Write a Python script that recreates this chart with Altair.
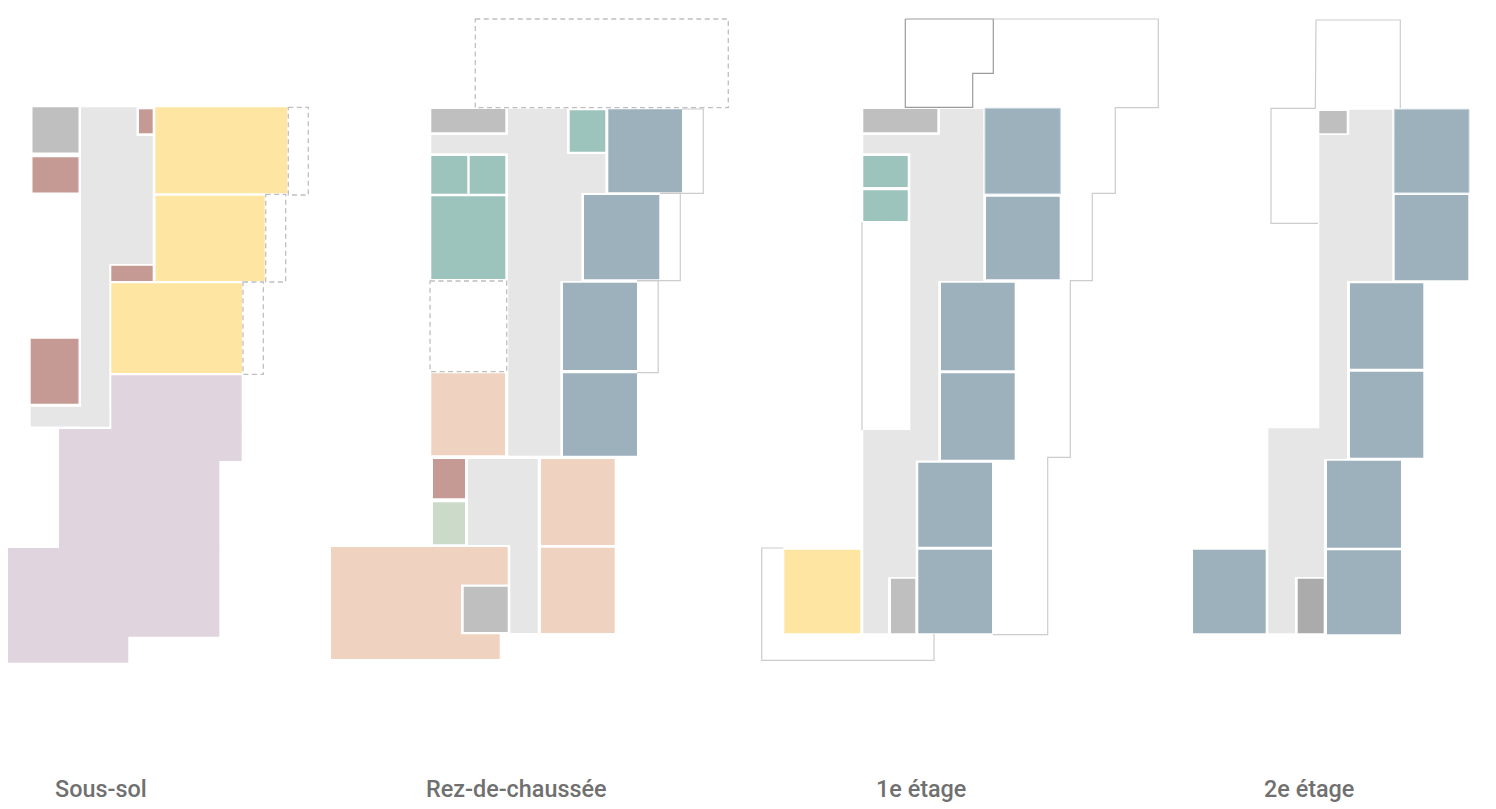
import altair as alt
import pandas as pd

# Room types and palette
room_types = ["circulation", "service", "technique", "stockage", "parking", "bureau", "atelier", "salle", "accueil"]
room_colors = ["#e6e6e6", "#bfbfbf", "#c69a94", "#fee5a1", "#e0d4de", "#9cb1bc", "#9cc3bc", "#efd2bf", "#ccdbc9"]

# Floor labels
floor_names = ["Sous-sol", "Rez-de-chaussée", "1e étage", "2e étage"]
floor_x = [55, 426, 876, 1264]
floor_y = [797, 797, 797, 797]

# Rooms: (type, x0, x1, y0, y1)
sous_sol = [
    ("circulation", 81, 136.5, 107.3, 137), ("circulation", 81, 152.7, 136, 264), ("circulation", 81, 109.3, 263, 426.5),
    ("circulation", 30.7, 109.3, 406.7, 426.5),
    ("service", 32.5, 78.5, 107.3, 152.5),
    ("technique", 32.5, 78.5, 157.3, 192.5), ("technique", 30.7, 78.5, 338.7, 403.7),
    ("technique", 139, 152.7, 109.3, 133.3), ("technique", 111.3, 152.7, 265.7, 281),
    ("stockage", 155.3, 287.3, 107.3, 193.3), ("stockage", 155.5, 264.7, 195.7, 281),
    ("stockage", 111.3, 242, 283.3, 373),
    ("parking", 111.3, 241.7, 375.3, 430), ("parking", 59, 241.7, 429, 461),
    ("parking", 59, 219.3, 460, 549), ("parking", 0, 219.3, 548, 636.7),
    ("parking", 0, 128.3, 636, 662.7),
]
rez = [
    ("circulation", 508, 567, 108.7, 155), ("circulation", 431.3, 509, 135, 153.3),
    ("circulation", 508, 605.3, 154, 193), ("circulation", 508, 581.3, 192.3, 281),
    ("circulation", 508.3, 560.3, 280, 455.7),
    ("circulation", 468, 537.7, 459, 545), ("circulation", 510.3, 537.7, 544.3, 633),
    ("service", 431.3, 505.3, 109, 132.3), ("service", 463.7, 507.7, 586.7, 632),
    ("atelier", 569.7, 605.3, 110.3, 151.7), ("atelier", 431.3, 467.3, 156, 193.7),
    ("atelier", 469.7, 505.3, 156, 193.7), ("atelier", 431.3, 505.3, 196.3, 279),
    ("bureau", 608.3, 682, 109.3, 192.3), ("bureau", 584, 659.3, 195, 279.3),
    ("bureau", 563, 637, 282.7, 370), ("bureau", 563, 637, 373.3, 455.7),
    ("salle", 431.3, 505, 373.3, 455.3), ("salle", 541, 614.7, 459, 545),
    ("salle", 541, 614.7, 547.7, 633),
    ("salle", 331, 507.7, 547, 584.5), ("salle", 331, 461, 584, 635), ("salle", 331, 499.7, 634.3, 659),
    ("technique", 433, 465, 459, 498.3), ("accueil", 433, 465, 502.3, 544.3),
]
etage1 = [
    ("circulation", 940, 983.3, 109, 136), ("circulation", 863.3, 983.3, 135, 153.3),
    ("circulation", 910.3, 983.3, 153, 281), ("circulation", 910.3, 938.3, 280, 431),
    ("circulation", 863.3, 938.3, 430, 460.5), ("circulation", 863.3, 915.7, 460, 577),
    ("circulation", 863.3, 888, 576, 633.3),
    ("service", 863.3, 937.3, 109, 132.3), ("service", 891, 915.3, 578.7, 633.3),
    ("atelier", 863.3, 907.7, 156, 187), ("atelier", 863.3, 907.7, 190.3, 221),
    ("bureau", 985, 1060.3, 108.3, 193.7), ("bureau", 986, 1059.7, 196.7, 279.3),
    ("bureau", 941, 1014.7, 282.7, 370.3), ("bureau", 941, 1014.7, 373.3, 459.7),
    ("bureau", 918.3, 992, 462.7, 546.7), ("bureau", 918.3, 992, 549.7, 633.3),
    ("stockage", 784.3, 860.3, 549.7, 633.3),
]
etage2 = [
    ("circulation", 1349.3, 1392.3, 109.7, 136), ("circulation", 1319.3, 1392.3, 135, 281),
    ("circulation", 1319.3, 1347, 280, 429.3), ("circulation", 1268.3, 1347, 428.3, 459),
    ("circulation", 1268.3, 1324, 458.3, 577), ("circulation", 1268.3, 1295, 576, 633.3),
    ("service", 1319.3, 1346.7, 111, 133.3),
    ("bureau", 1394.3, 1469, 109.3, 192.7), ("bureau", 1394.7, 1468.3, 195, 280.3),
    ("bureau", 1350, 1423.3, 283.3, 368.7), ("bureau", 1350, 1423.3, 371.7, 457.7),
    ("bureau", 1327, 1401, 460.7, 547.7), ("bureau", 1327, 1401, 550.3, 634.3),
    ("bureau", 1193, 1265.7, 549.7, 633.3),
]
darker_room = [("service", 1297.7, 1323.7, 578.7, 633.3)]

# Dashed footprints: (x0, x1, y0, y1)
dashed = [
    (288.3, 308.3, 107.3, 195), (265.7, 285.7, 194.3, 282), (243, 263.3, 282, 374.3),
    (475.3, 728.3, 19, 107.7), (430, 506.7, 281, 371.7),
]

# Pale edges on a few blue rooms: (x0, x1, y0, y1)
pale_edges = [(985, 1060.3, 108.3, 193.7), (1394.3, 1469, 109.3, 192.7)]

# Solid outlines: (tone, list of vertices)
outlines = [
    ("clair", [(682, 109), (703.3, 109), (703.3, 193.3), (660, 193.3)]),
    ("clair", [(660, 193.3), (680.3, 193.3), (680.3, 280.7), (637, 280.7)]),
    ("clair", [(637, 280.7), (658.2, 280.7), (658.2, 372.7), (637, 372.7)]),
    ("fonce", [(905.3, 19), (993.3, 19), (993.3, 73.3), (972.7, 73.3), (972.7, 107.3), (905.3, 107.3), (905.3, 19)]),
    ("clair", [(993.3, 19), (1158.3, 19), (1158.3, 107.7), (1115.3, 107.7), (1115.3, 193.3), (1092.3, 193.3),
               (1092.3, 280.7), (1070.3, 280.7), (1070.3, 457.3), (1047.7, 457.3), (1047.7, 634.7), (993, 634.7)]),
    ("clair", [(862, 222), (862, 430)]),
    ("clair", [(783.3, 548), (761.7, 548), (761.7, 660.3), (934, 660.3), (934, 634)]),
    ("clair", [(1318, 223.3), (1271, 223.3), (1271, 108.3), (1315.3, 108.3), (1316, 20), (1400.3, 20), (1400.3, 108)]),
]

x_scale = alt.Scale(domain=[8, 1488], range=[0, 1480], nice=False, zero=False)
y_scale = alt.Scale(domain=[8, 803], range=[0, 795], nice=False, zero=False)
X = alt.X("x0:Q", scale=x_scale, axis=None)
Y = alt.Y("y0:Q", scale=y_scale, axis=None)

rooms = pd.DataFrame(sous_sol + rez + etage1 + etage2, columns=["kind", "x0", "x1", "y0", "y1"])
dark = pd.DataFrame(darker_room, columns=["kind", "x0", "x1", "y0", "y1"])
dash = pd.DataFrame(dashed, columns=["x0", "x1", "y0", "y1"])
pale = pd.DataFrame(pale_edges, columns=["x0", "x1", "y0", "y1"])
lines = pd.DataFrame(
    [{"path": p, "tone": tone, "i": i, "x0": v[0], "y0": v[1]}
     for p, (tone, verts) in enumerate(outlines) for i, v in enumerate(verts)]
)
labels = pd.DataFrame({"name": floor_names, "x0": floor_x, "y0": floor_y})

room_layer = alt.Chart(rooms).mark_rect(strokeWidth=0).encode(
    x=X, x2="x1:Q", y=Y, y2="y1:Q",
    color=alt.Color("kind:N", scale=alt.Scale(domain=room_types, range=room_colors), legend=None),
)
dark_layer = alt.Chart(dark).mark_rect(fill="#ababab").encode(x=X, x2="x1:Q", y=Y, y2="y1:Q")
pale_layer = alt.Chart(pale).mark_rect(fill="transparent", stroke="#c6d3da", strokeWidth=1).encode(
    x=X, x2="x1:Q", y=Y, y2="y1:Q")
dash_layer = alt.Chart(dash).mark_rect(
    fill="transparent", stroke="#bfbfbf", strokeWidth=1.3, strokeDash=[5, 3.5]
).encode(x=X, x2="x1:Q", y=Y, y2="y1:Q")
line_layer = alt.Chart(lines).mark_line(strokeWidth=1.2).encode(
    x=X, y=Y, detail="path:N", order="i:Q",
    stroke=alt.Stroke("tone:N", scale=alt.Scale(domain=["clair", "fonce"], range=["#cccccc", "#9c9c9c"]), legend=None),
)
text_layer = alt.Chart(labels).mark_text(
    font="Roboto", fontSize=23.4, fontWeight=500, align="left", baseline="alphabetic", color="#707070"
).encode(x=X, y=Y, text="name:N")

chart = alt.layer(room_layer, dark_layer, pale_layer, dash_layer, line_layer, text_layer).properties(
    width=1480, height=795, padding=0, autosize=alt.AutoSizeParams(type="none")
).configure_view(stroke=None)

chart.save("out.html", embed_options={"renderer": "svg", "actions": False})
